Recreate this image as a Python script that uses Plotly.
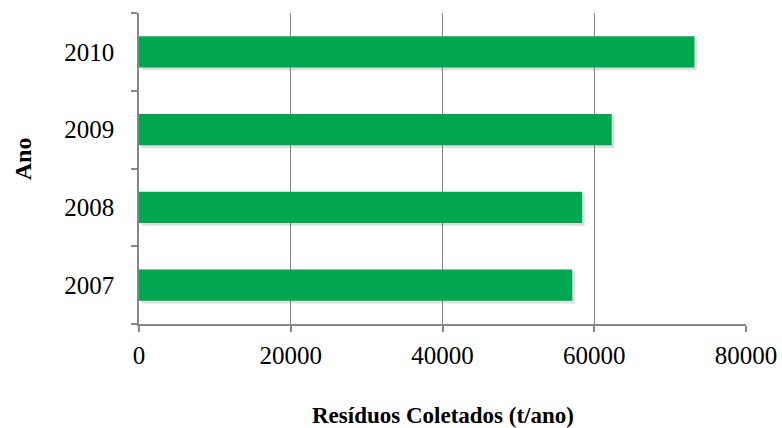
import plotly.graph_objects as go

# Resíduos coletados por ano (t/ano)
anos = ["2007", "2008", "2009", "2010"]
residuos = [57100, 58400, 62300, 73200]
x_ticks = [0, 20000, 40000, 60000, 80000]

verde = "#00A650"
cinza = "#878787"
fonte = "Liberation Serif"

fig = go.Figure()

# soft drop shadow under each bar
fig.add_trace(go.Bar(
    y=anos, x=residuos, orientation="h",
    base=[350] * len(anos),
    width=0.4, offset=-0.235,
    marker=dict(color="rgba(0,0,0,0.13)", line=dict(width=0)),
    hoverinfo="skip", showlegend=False,
))

fig.add_trace(go.Bar(
    y=anos, x=residuos, orientation="h",
    width=0.4,
    marker=dict(color=verde, line=dict(width=0)),
    showlegend=False,
))

fig.update_layout(
    width=782, height=428,
    margin=dict(l=139, r=36, t=13, b=104),
    paper_bgcolor="white", plot_bgcolor="white",
    barmode="overlay",
    font=dict(family=fonte, size=25, color="black"),
    annotations=[
        dict(text="<b>Resíduos Coletados (t/ano)</b>", xref="paper", yref="paper",
             x=0.5, y=-0.295, xanchor="center", yanchor="middle",
             showarrow=False, font=dict(family=fonte, size=23)),
        dict(text="<b>Ano</b>", xref="paper", yref="paper",
             x=-0.191, y=0.53, xanchor="center", yanchor="middle", textangle=-90,
             showarrow=False, font=dict(family=fonte, size=24)),
    ],
)

fig.update_xaxes(
    range=[0, 80000], tickvals=x_ticks, ticktext=[str(v) for v in x_ticks],
    automargin=False,
    showgrid=True, gridcolor=cinza, gridwidth=1,
    showline=True, linecolor=cinza, linewidth=1.5,
    ticks="outside", ticklen=6, tickcolor=cinza, tickwidth=1.5,
    zeroline=False,
    ticklabelstandoff=2,
    tickfont=dict(family=fonte, size=25),
)

fig.update_yaxes(
    type="category", categoryorder="array", categoryarray=anos,
    range=[-0.5, 3.5],
    automargin=False,
    showgrid=False,
    showline=True, linecolor=cinza, linewidth=1.5,
    ticks="outside", ticklen=6, tickcolor=cinza, tickwidth=1.5,
    tickson="boundaries",
    ticklabelstandoff=18,
    tickfont=dict(family=fonte, size=25),
)

fig.write_html("out.html")
